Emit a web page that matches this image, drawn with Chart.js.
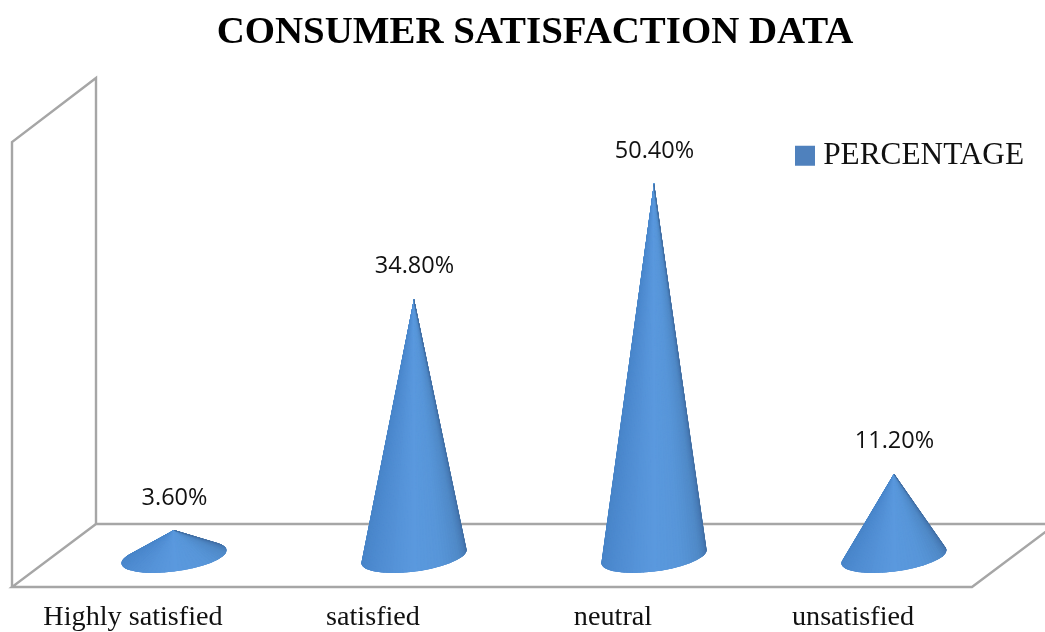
<!DOCTYPE html>
<html><head><meta charset="utf-8">
<style>html,body{margin:0;padding:0;background:#fff}canvas{display:block}</style>
<script src="https://cdn.jsdelivr.net/npm/chart.js@4"></script>
</head><body><canvas id="c" width="1045" height="632"></canvas>
<script>
const categories = ['Highly satisfied', 'satisfied', 'neutral', 'unsatisfied'];
const percentage = [3.6, 34.8, 50.4, 11.2];
const seriesName = 'PERCENTAGE';
const titleText = 'CONSUMER SATISFACTION DATA';

const SERIF = '"Liberation Serif", serif';
const SANS = '"Open Sans", sans-serif';

// colour stops around the visible side of the cone, from its left edge to its right edge
const shade = [[0,[70,130,196]],[0.25,[78,139,208]],[0.5,[90,153,222]],[0.66,[88,150,217]],[0.82,[80,138,200]],[0.93,[70,120,178]],[1,[66,110,160]]];
function shadeAt(t){
  for(let i=1;i<shade.length;i++){
    if(t<=shade[i][0]){
      const [t0,c0]=shade[i-1],[t1,c1]=shade[i],k=(t-t0)/(t1-t0);
      return 'rgb('+c0.map((v,j)=>Math.round(v+(c1[j]-v)*k)).join(',')+')';
    }
  }
  return 'rgb('+shade[shade.length-1][1].join(',')+')';
}

function drawCone(ctx,cx,cy,a,apexY){
  const rot=-0.133, b=14.8, cos=Math.cos(rot), sin=Math.sin(rot);
  const dy=apexY-cy;
  const u=(dy*sin)/a, v=(dy*cos)/b;
  const d=Math.hypot(u,v), base=Math.atan2(v,u), off=Math.acos(1/d);
  let t1=base+off, t2=base-off;
  while(t2<0) t2+=2*Math.PI;
  while(t1<0) t1+=2*Math.PI;
  const start=Math.min(t1,t2)===t1?t1:t2, end=Math.max(t1,t2);
  let from=start,to=end;
  if(!(from<Math.PI/2&&to>Math.PI/2)){from=end;to=start+2*Math.PI;}
  const pt=t=>{const ex=a*Math.cos(t),ey=b*Math.sin(t);return [cx+ex*cos-ey*sin,cy+ex*sin+ey*cos];};
  ctx.save();
  ctx.beginPath();
  ctx.moveTo(cx,apexY);
  const arcEnd=from, arcStart=to;
  ctx.ellipse(cx,cy,a,b,rot,arcStart,arcEnd,true);
  ctx.closePath();
  ctx.fillStyle='rgb(74,133,202)';
  ctx.fill();
  ctx.clip();
  const N=48;
  for(let i=0;i<N;i++){
    const s0=arcStart+(arcEnd-arcStart)*i/N, s1=arcStart+(arcEnd-arcStart)*(i+1)/N;
    const p0=pt(s0),p1=pt(s1);
    const col=shadeAt((i+0.5)/N);
    ctx.beginPath();ctx.moveTo(cx,apexY);ctx.lineTo(p0[0],p0[1]);ctx.lineTo(p1[0],p1[1]);ctx.closePath();
    ctx.fillStyle=col;ctx.strokeStyle=col;ctx.lineWidth=1;ctx.fill();ctx.stroke();
  }
  ctx.restore();
}

const framePlugin={
  id:'frame',
  afterLayout(chart){
    chart.titleBlock.left+=2;
    const lg=chart.legend;
    lg.left=790;lg.top=127.5;lg.right=1040;lg.bottom=180;lg.width=250;lg.height=52.5;
  },
  beforeDatasetsDraw(chart){
    const {ctx,chartArea:{left,right,top,bottom}}=chart;
    const dx=42, fb=bottom+30.3, bb=bottom-32.7, ft=top+30, bt=top-34;
    ctx.save();
    ctx.strokeStyle='#a6a6a6';ctx.lineWidth=2.4;ctx.lineJoin='miter';
    ctx.beginPath();
    ctx.moveTo(left-dx,fb);ctx.lineTo(right-dx,fb);ctx.lineTo(right+dx,bb);ctx.lineTo(left+dx,bb);ctx.closePath();
    ctx.stroke();
    ctx.beginPath();
    ctx.moveTo(left-dx,fb);ctx.lineTo(left-dx,ft);ctx.lineTo(left+dx,bt);ctx.lineTo(left+dx,bb);
    ctx.stroke();
    ctx.restore();
  },
  beforeDatasetDraw(chart,args){
    const {ctx}=chart;
    args.meta.data.forEach((bar,i)=>{
      drawCone(ctx,bar.x,bar.base,bar.width/2,bar.y);
      ctx.save();
      ctx.font='23.5px '+SANS;
      ctx.fillStyle='#111';ctx.textAlign='center';ctx.textBaseline='middle';
      ctx.fillText(percentage[i].toFixed(2)+'%',bar.x+0.5,bar.y-32.2);
      ctx.restore();
    });
    return false;
  }
};

new Chart(document.getElementById('c'),{
  type:'bar',
  data:{labels:categories,datasets:[{label:seriesName,data:percentage,backgroundColor:'#4F81BD',categoryPercentage:1,barPercentage:0.442}]},
  plugins:[framePlugin],
  options:{
    responsive:false,animation:false,
    layout:{padding:{left:54,right:31,top:0,bottom:0}},
    plugins:{
      title:{display:true,text:titleText,color:'#000',font:{family:SERIF,size:38.9,weight:'bold'},padding:{top:10,bottom:55.3}},
      legend:{display:true,position:'chartArea',align:'start',labels:{color:'#111',font:{family:SERIF,size:31.3},usePointStyle:true,pointStyle:'rect',boxWidth:5,boxHeight:20,padding:12.5}},
      tooltip:{enabled:false}
    },
    scales:{
      x:{grid:{display:false,drawTicks:false},border:{display:false},
         afterFit(s){s.height=75.3;},
         ticks:{color:'#111',font:{family:SERIF,size:28.2},padding:44,labelOffset:-41,maxRotation:0,autoSkip:false}},
      y:{display:false,min:0,max:60}
    }
  }
});
</script></body></html>
